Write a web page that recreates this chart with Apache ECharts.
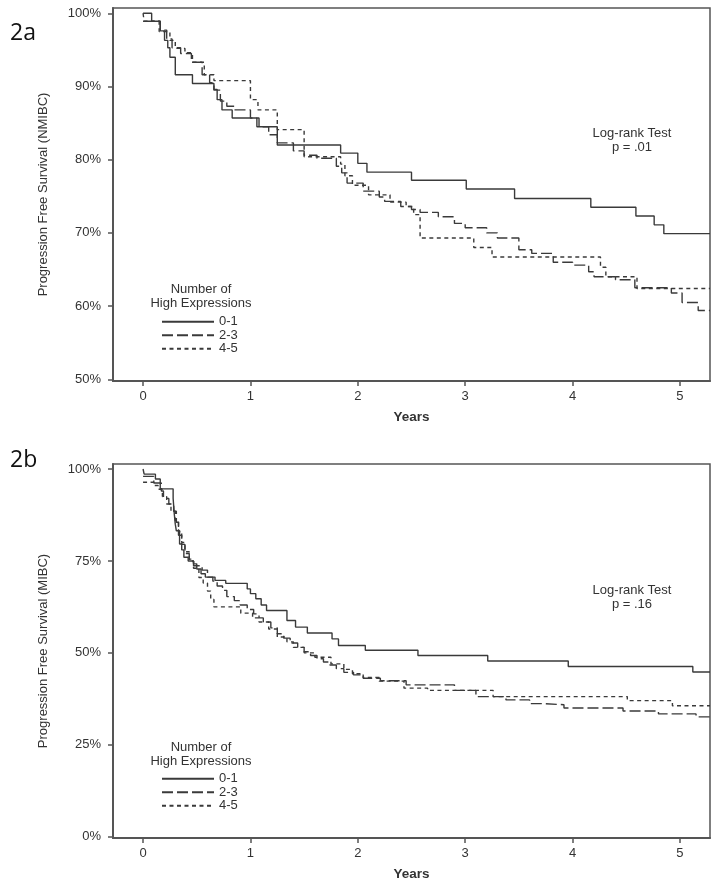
<!DOCTYPE html>
<html>
<head>
<meta charset="utf-8">
<script src="https://cdn.jsdelivr.net/npm/echarts@6/dist/echarts.min.js"></script>
<style>
html,body{margin:0;padding:0;background:#fff;}
#chart{width:720px;height:886px;}
</style>
</head>
<body>
<div id="chart"></div>
<script>
// ---------- data (years, % progression-free) ----------
const seriesNames = ['0-1', '2-3', '4-5'];
const xTicks = [0, 1, 2, 3, 4, 5];
const yTicksTop = [50, 60, 70, 80, 90, 100];
const yTicksBottom = [0, 25, 50, 75, 100];

// Panel 2a (NMIBC)
const top01 = [[0,100],[0.08,98.9],[0.16,97.6],[0.2,96.3],[0.23,95.3],[0.25,94.0],[0.3,91.6],[0.46,90.4],[0.66,89.6],[0.69,88.2],[0.735,86.8],[0.83,85.7],[1.06,84.5],[1.25,82.0],[1.84,80.9],[2.0,79.5],[2.085,78.3],[2.5,77.2],[3.01,76.0],[3.46,74.7],[4.17,73.5],[4.59,72.3],[4.76,71.1],[4.85,69.9],[5.28,69.9]];
const top23 = [[0,98.9],[0.16,97.7],[0.22,96.5],[0.27,95.3],[0.35,94.5],[0.45,93.3],[0.55,91.6],[0.62,90.5],[0.66,89.5],[0.72,88.0],[0.78,87.3],[0.85,86.8],[1.0,85.7],[1.08,84.5],[1.17,83.4],[1.25,82.3],[1.4,81.2],[1.5,80.6],[1.62,80.2],[1.8,79.1],[1.85,78.2],[1.9,76.8],[2.05,75.7],[2.2,74.9],[2.25,74.3],[2.4,73.6],[2.5,73.2],[2.58,72.8],[2.75,72.2],[2.9,71.3],[3.0,70.7],[3.2,70.0],[3.3,69.3],[3.5,67.7],[3.62,67.2],[3.82,66.0],[4.0,65.6],[4.15,64.7],[4.2,64.0],[4.4,63.6],[4.58,62.5],[4.92,61.8],[5.02,60.5],[5.17,59.4],[5.28,59.4]];
const top45 = [[0,100],[0.01,98.9],[0.15,97.5],[0.25,96.3],[0.3,95.2],[0.39,94.6],[0.46,93.3],[0.57,91.6],[0.66,90.8],[1.0,88.2],[1.07,86.8],[1.25,84.1],[1.5,80.4],[1.84,79.4],[1.88,77.8],[1.95,76.5],[2.1,75.2],[2.3,74.2],[2.45,73.6],[2.52,72.5],[2.58,69.3],[3.08,68.0],[3.25,66.7],[4.26,65.3],[4.31,64.0],[4.6,62.4],[5.28,62.4]];

// Panel 2b (MIBC)
const bot01 = [[0,100],[0.01,98.6],[0.115,97.3],[0.16,94.6],[0.28,92.0],[0.29,88.0],[0.3,85.0],[0.31,83.2],[0.34,79.6],[0.36,78.0],[0.38,76.0],[0.42,75.0],[0.47,74.2],[0.5,72.8],[0.54,71.5],[0.58,70.6],[0.67,69.7],[0.77,68.9],[0.97,67.4],[1.0,66.1],[1.05,64.7],[1.1,63.0],[1.15,61.5],[1.34,58.8],[1.42,57.0],[1.53,55.4],[1.76,53.8],[1.82,52.0],[2.07,50.7],[2.56,49.3],[3.21,47.8],[3.96,46.3],[5.12,44.8],[5.28,44.8]];
const bot23 = [[0,98.0],[0.1,96.2],[0.17,94.0],[0.19,92.0],[0.24,90.5],[0.285,88.5],[0.31,85.5],[0.33,82.0],[0.36,79.5],[0.39,77.0],[0.43,75.5],[0.47,73.7],[0.55,72.5],[0.6,70.6],[0.65,69.5],[0.69,68.2],[0.74,67.0],[0.78,65.3],[0.85,64.2],[0.905,63.0],[0.97,61.8],[1.03,60.6],[1.08,59.5],[1.12,58.4],[1.19,56.8],[1.25,55.2],[1.31,54.0],[1.37,52.7],[1.44,51.5],[1.5,50.3],[1.56,49.3],[1.62,48.4],[1.68,47.5],[1.74,46.7],[1.8,45.7],[1.87,44.7],[1.96,44.0],[2.05,43.1],[2.21,42.4],[2.45,41.3],[2.9,39.8],[3.1,38.1],[3.38,37.2],[3.6,36.2],[3.72,35.9],[3.92,35.0],[4.47,34.2],[4.8,33.4],[5.15,32.6],[5.28,32.6]];
const bot45 = [[0,96.4],[0.1,95.5],[0.14,94.5],[0.18,92.5],[0.22,90.5],[0.26,88.5],[0.3,86.0],[0.33,83.0],[0.36,80.0],[0.39,77.5],[0.43,75.0],[0.47,73.0],[0.52,70.5],[0.56,69.0],[0.6,66.8],[0.63,64.5],[0.66,62.5],[0.91,60.8],[1.02,59.5],[1.08,58.4],[1.17,56.5],[1.25,54.3],[1.34,53.0],[1.4,51.5],[1.5,50.0],[1.6,48.8],[1.75,47.0],[1.87,45.5],[1.95,44.3],[2.05,43.3],[2.2,42.3],[2.43,40.4],[2.65,39.8],[3.26,38.1],[4.51,37.0],[4.93,35.6],[5.28,35.6]];

// ---------- styling ----------
const FONT = 'Liberation Sans, Arial, Helvetica, sans-serif';
const AX = '#555';
const LINE = '#3a3a3a';
const dashTypes = ['solid', [11, 4], [4, 3.5]];

const chart = echarts.init(document.getElementById('chart'), null, {renderer: 'canvas'});

function xAxis(gridIndex) {
  return {
    type: 'value', gridIndex, min: -0.28, max: 5.28,
    name: 'Years', nameLocation: 'middle', nameGap: 29,
    nameTextStyle: {fontFamily: FONT, fontSize: 13.5, fontWeight: 'bold', color: '#333'},
    axisLine: {show: true, onZero: false, lineStyle: {color: AX, width: 2}},
    axisTick: {show: true, length: 5, lineStyle: {color: AX, width: 1.5}, customValues: xTicks},
    axisLabel: {fontFamily: FONT, fontSize: 13, color: '#333', margin: 9, customValues: xTicks},
    splitLine: {show: false}
  };
}
function yAxis(gridIndex, min, max, ticks, title) {
  return {
    type: 'value', gridIndex, min, max,
    name: title, nameLocation: 'middle', nameGap: 63,
    nameTextStyle: {fontFamily: FONT, fontSize: 13, color: '#333'},
    axisLine: {show: true, onZero: false, lineStyle: {color: AX, width: 2}},
    axisTick: {show: true, length: 5, lineStyle: {color: AX, width: 1.5}, customValues: ticks},
    axisLabel: {fontFamily: FONT, fontSize: 13, color: '#333', margin: 12, formatter: '{value}%', customValues: ticks},
    splitLine: {show: false}
  };
}
function km(name, data, idx, i) {
  return {
    type: 'line', name, data, step: 'end', symbol: 'none',
    xAxisIndex: idx, yAxisIndex: idx, animation: false,
    lineStyle: {color: LINE, width: 1.4, type: dashTypes[i]},
    itemStyle: {color: LINE}
  };
}
function legend(top) {
  return {
    data: seriesNames, orient: 'vertical', left: 161, top, padding: 0,
    itemWidth: 52, itemHeight: 11, itemGap: 0,
    itemStyle: {opacity: 0},
    textStyle: {fontFamily: FONT, fontSize: 13, lineHeight: 13.5, color: '#333'},
    selectedMode: false
  };
}
function txt(x, y, text, size, align, font, fill) {
  return {type: 'text', x, y, style: {text, fontFamily: font || FONT, fontSize: size, fill: fill || '#333', textAlign: align || 'center', textVerticalAlign: 'middle'}};
}

const option = {
  backgroundColor: '#fff',
  animation: false,
  grid: [
    {left: 113, top: 8, width: 597, height: 373, show: true, borderColor: AX, borderWidth: 1.5, backgroundColor: 'transparent'},
    {left: 113, top: 464, width: 597, height: 374, show: true, borderColor: AX, borderWidth: 1.5, backgroundColor: 'transparent'}
  ],
  xAxis: [xAxis(0), xAxis(1)],
  yAxis: [
    yAxis(0, 49.77, 100.72, yTicksTop, 'Progression Free Survival (NMIBC)'),
    yAxis(1, -0.35, 101.36, yTicksBottom, 'Progression Free Survival (MIBC)')
  ],
  legend: [legend(315), legend(772)],
  series: [
    km('0-1', top01, 0, 0), km('2-3', top23, 0, 1), km('4-5', top45, 0, 2),
    km('0-1', bot01, 1, 0), km('2-3', bot23, 1, 1), km('4-5', bot45, 1, 2)
  ],
  graphic: [
    txt(10, 33, '2a', 23, 'left', 'Open Sans, Liberation Sans, sans-serif', '#111'),
    txt(10, 460, '2b', 23, 'left', 'Open Sans, Liberation Sans, sans-serif', '#111'),
    txt(632, 133, 'Log-rank Test', 13),
    txt(632, 147, 'p = .01', 13),
    txt(632, 590, 'Log-rank Test', 13),
    txt(632, 604, 'p = .16', 13),
    txt(201, 289, 'Number of', 13),
    txt(201, 303, 'High Expressions', 13),
    txt(201, 747, 'Number of', 13),
    txt(201, 761, 'High Expressions', 13)
  ]
};
chart.setOption(option);
</script>
</body>
</html>
